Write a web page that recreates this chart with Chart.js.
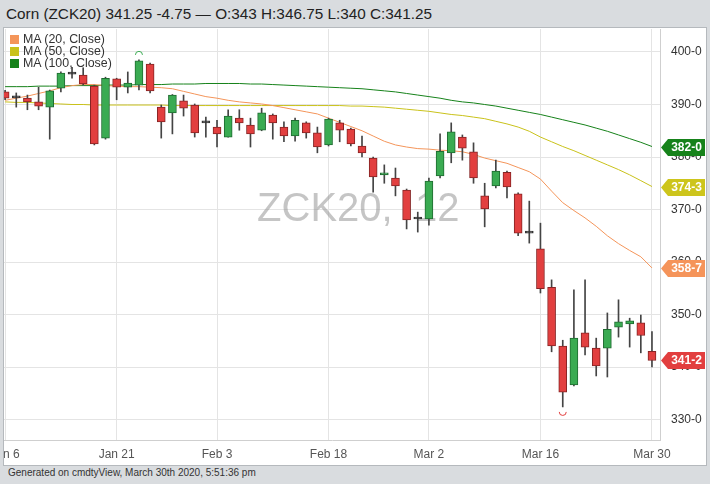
<!DOCTYPE html>
<html>
<head>
<meta charset="utf-8">
<script src="https://cdn.jsdelivr.net/npm/chart.js@4.4.0/dist/chart.umd.min.js"></script>
<style>
  html, body { margin: 0; padding: 0; }
  body { width: 710px; height: 484px; background: #d9dcdf; position: relative; overflow: hidden;
         font-family: "Liberation Sans", Arial, sans-serif; }
  #hdr { position: absolute; left: 6px; top: 5px; font-size: 15.3px; color: #222; white-space: nowrap; }
  #box { position: absolute; left: 3px; top: 27px; width: 702px; height: 437px; background: #fff;
         border: 1px solid #b5b9bd; }
  #legend { position: absolute; left: 10px; top: 33px; font-size: 12.4px; color: #333; line-height: 12px; }
  #legend div { height: 12px; white-space: nowrap; }
  #legend span { display: inline-block; width: 9px; height: 9px; margin-right: 4px; vertical-align: -1px; }
  #ftr { position: absolute; left: 8px; top: 467px; font-size: 10px; color: #333; white-space: nowrap; }
</style>
</head>
<body>
<div id="hdr"></div>
<div id="box"><canvas id="chart" width="702" height="437"></canvas></div>
<div id="legend"></div>
<div id="ftr">Generated on cmdtyView, March 30th 2020, 5:51:36 pm</div>
<script>
const symbol = "ZCK20";
const days = [
  "Jan 6", "Jan 7", "Jan 8", "Jan 9", "Jan 10", "Jan 13", "Jan 14", "Jan 15", "Jan 16", "Jan 17",
  "Jan 21", "Jan 22", "Jan 23", "Jan 24", "Jan 27", "Jan 28", "Jan 29", "Jan 30", "Jan 31",
  "Feb 3", "Feb 4", "Feb 5", "Feb 6", "Feb 7", "Feb 10", "Feb 11", "Feb 12", "Feb 13", "Feb 14",
  "Feb 18", "Feb 19", "Feb 20", "Feb 21", "Feb 24", "Feb 25", "Feb 26", "Feb 27", "Feb 28",
  "Mar 2", "Mar 3", "Mar 4", "Mar 5", "Mar 6", "Mar 9", "Mar 10", "Mar 11", "Mar 12", "Mar 13",
  "Mar 16", "Mar 17", "Mar 18", "Mar 19", "Mar 20", "Mar 23", "Mar 24", "Mar 25", "Mar 26", "Mar 27",
  "Mar 30"
];
const tickDays = ["Jan 6", "Jan 21", "Feb 3", "Feb 18", "Mar 2", "Mar 16", "Mar 30"];
const priceTicks = [330, 340, 350, 360, 370, 380, 390, 400];

const open = [
  392.4, 391.25, 391.2, 390.5, 389.5, 393.1, 395.8, 395.6, 393.5, 383.6,
  394.9, 393.3, 393.7, 397.7, 389.5, 388.4, 390.7, 389.9, 386.5,
  385.7, 383.8, 387.4, 386.1, 385.1, 388.0, 385.7, 384.0, 386.5, 384.6,
  382.3, 386.5, 385.3, 382.1, 379.8, 376.6, 376.0, 373.7, 368.2,
  368.2, 376.4, 380.8, 383.8, 381.0, 372.6, 374.5, 377.1, 373.0, 365.5,
  362.5, 355.2, 344.0, 336.6, 346.5, 343.6, 343.6, 347.6, 348.2, 348.4,
  343
];
const high = [
  392.7, 392.2, 391.8, 393.3, 392.75, 396.2, 397.1, 397.0, 393.7, 395.2,
  395.0, 396.2, 398.5, 397.9, 389.9, 391.9, 391.8, 390.1, 387.6,
  387.0, 389.0, 389.0, 387.4, 389.3, 388.2, 386.7, 387.4, 386.7, 385.7,
  387.4, 387.0, 385.5, 384.0, 380.0, 378.5, 377.9, 373.9, 369.5,
  376.0, 384.4, 386.5, 384.2, 382.7, 375.0, 379.4, 377.3, 373.2, 371.6,
  367.4, 356.6, 345.1, 354.7, 356.6, 345.5, 350.3, 352.8, 349.3, 349.9,
  346.75
];
const low = [
  390.9, 389.5, 389.0, 389.0, 383.4, 392.4, 395.0, 393.7, 382.3, 383.4,
  390.9, 392.2, 392.8, 392.2, 383.6, 384.4, 387.8, 383.8, 383.8,
  381.9, 383.8, 385.1, 381.9, 385.0, 383.4, 382.9, 383.0, 383.6, 380.8,
  382.1, 382.9, 382.1, 380.0, 373.3, 375.0, 372.6, 366.3, 365.7,
  367.0, 376.0, 378.9, 379.4, 375.0, 366.7, 374.1, 372.2, 365.0, 363.6,
  354.1, 342.9, 332.4, 336.4, 342.3, 338.3, 338.1, 345.7, 343.8, 342.7,
  340
];
const close = [
  391.2, 391.25, 390.5, 389.7, 392.6, 396.0, 395.8, 393.9, 382.5, 395.0,
  393.3, 394.1, 398.3, 392.6, 386.7, 391.8, 389.3, 384.6, 386.5,
  384.4, 387.8, 386.5, 384.4, 388.4, 386.5, 384.0, 387.0, 384.6, 381.9,
  387.2, 385.1, 382.5, 380.8, 376.2, 377.0, 374.5, 368.0, 368.2,
  375.4, 381.1, 384.8, 381.7, 376.0, 370.1, 377.3, 374.3, 365.5, 365.5,
  354.9, 344.0, 335.2, 345.5, 343.8, 340.2, 347.2, 348.6, 348.8, 346.0,
  341.25
];
const ma20 = [
  390.8, 391.2, 391.6, 392.1, 392.6, 393.2, 393.6, 393.8, 393.8, 393.6,
  393.5, 393.4, 393.4, 393.3, 393.2, 393.0, 392.5, 392.0, 391.5,
  391.2, 390.8, 390.5, 390.3, 390.1, 389.8, 389.4, 389.0, 388.6, 388.2,
  387.4, 386.6, 385.8, 385.0, 384.0, 383.0, 382.3, 381.9, 381.6,
  381.5, 381.3, 381.2, 381.0, 380.5, 379.8, 379.3, 378.8, 378.0, 377.2,
  375.8, 373.5, 371.3, 369.8, 368.4, 366.8, 365.0, 363.5, 362.2, 361.0,
  358.875
];
const ma50 = [
  390.5, 390.4, 390.4, 390.3, 390.2, 390.1, 390.0, 390.0, 389.9, 389.9,
  389.9, 389.9, 389.9, 389.9, 389.9, 389.8, 389.8, 389.8, 389.8,
  389.8, 389.8, 389.8, 389.8, 389.8, 389.8, 389.8, 389.8, 389.8, 389.8,
  389.8, 389.8, 389.7, 389.7, 389.6, 389.5, 389.3, 389.1, 388.9,
  388.7, 388.4, 388.1, 387.9, 387.6, 387.3, 386.8, 386.3, 385.7, 384.9,
  383.8, 382.9, 382.0, 381.2, 380.3, 379.4, 378.5, 377.6, 376.6, 375.5,
  374.375
];
const ma100 = [
  393.4, 393.4, 393.4, 393.5, 393.5, 393.5, 393.6, 393.6, 393.6, 393.7,
  393.7, 393.7, 393.8, 393.8, 393.8, 393.9, 393.9, 393.9, 394.0,
  394.0, 394.0, 394.0, 393.9, 393.9, 393.8, 393.7, 393.6, 393.5, 393.4,
  393.3, 393.2, 393.1, 393.0, 392.8, 392.6, 392.4, 392.1, 391.8,
  391.5, 391.2, 390.8, 390.5, 390.3, 390.0, 389.7, 389.3, 388.9, 388.5,
  388.1, 387.6, 387.1, 386.6, 386.1, 385.5, 384.9, 384.2, 383.5, 382.8,
  382.0
];

const UP = "#3aab52", UP_EDGE = "#1f6b31";
const DOWN = "#e23f3f", DOWN_EDGE = "#862424";
const FLAT = "#333333";
const MA_COLORS = { ma20: "#f4955a", ma50: "#c9c21a", ma100: "#16821a" };

const n = days.length;
const last = n - 1;
const frac8 = v => Math.floor(v) + "-" + Math.round((v - Math.floor(v)) * 8);

// header
document.getElementById("hdr").textContent =
  "Corn (" + symbol + ") " + close[last] + " " + (close[last] - close[last - 1]).toFixed(2) +
  " \u2014 O:" + open[last] + " H:" + high[last] + " L:" + low[last] + " C:" + close[last];

// legend
const legendItems = [["MA (20, Close)", MA_COLORS.ma20], ["MA (50, Close)", MA_COLORS.ma50], ["MA (100, Close)", MA_COLORS.ma100]];
document.getElementById("legend").innerHTML = legendItems
  .map(([t, c]) => '<div><span style="background:' + c + '"></span>' + t + "</div>").join("");

const candleColor = (i, a, b, c) => close[i] > open[i] ? a : close[i] < open[i] ? b : c;
const pts = arr => arr.map((v, i) => ({ x: i, y: v }));

const watermark = {
  id: "watermark",
  beforeDatasetsDraw(chart) {
    const { ctx, chartArea } = chart;
    ctx.save();
    ctx.font = "40px 'Liberation Sans', Arial, sans-serif";
    ctx.fillStyle = "rgba(150,150,150,0.55)";
    ctx.textAlign = "center";
    ctx.textBaseline = "alphabetic";
    ctx.fillText(symbol + ",  12", chartArea.left + chartArea.width * 0.54, chartArea.top + 192);
    ctx.restore();
  }
};

const extremes = {
  id: "extremes",
  afterDatasetsDraw(chart) {
    const { ctx, scales: { x, y } } = chart;
    const hi = high.indexOf(Math.max(...high));
    const lo = low.indexOf(Math.min(...low));
    ctx.save();
    ctx.lineWidth = 1;
    ctx.strokeStyle = UP;
    ctx.beginPath();
    ctx.arc(x.getPixelForValue(hi), y.getPixelForValue(high[hi]) - 5, 3.5, Math.PI, 0);
    ctx.stroke();
    ctx.strokeStyle = DOWN;
    ctx.beginPath();
    ctx.arc(x.getPixelForValue(lo), y.getPixelForValue(low[lo]) + 5, 3.5, 0, Math.PI);
    ctx.stroke();
    ctx.restore();
  }
};

const tags = {
  id: "tags",
  afterDraw(chart) {
    const { ctx, chartArea, scales: { y } } = chart;
    const items = [
      [ma100[last], MA_COLORS.ma100],
      [ma50[last], "#cdc51c"],
      [ma20[last], "#f5945a"],
      [close[last], DOWN]
    ];
    const x0 = chartArea.right + 1, x1 = chart.width - 1, h = 8.5;
    ctx.save();
    ctx.font = "bold 12px 'Liberation Sans', Arial, sans-serif";
    ctx.textAlign = "center";
    ctx.textBaseline = "middle";
    items.forEach(([v, c]) => {
      const py = Math.round(y.getPixelForValue(v)) + 0.5;
      ctx.fillStyle = c;
      ctx.beginPath();
      ctx.moveTo(x0, py);
      ctx.lineTo(x0 + 7, py - h);
      ctx.lineTo(x1, py - h);
      ctx.lineTo(x1, py + h);
      ctx.lineTo(x0 + 7, py + h);
      ctx.closePath();
      ctx.fill();
      ctx.fillStyle = "#fff";
      ctx.fillText(frac8(v), (x0 + 7 + x1) / 2, py + 0.5);
    });
    ctx.restore();
  }
};

new Chart(document.getElementById("chart"), {
  type: "bar",
  data: {
    datasets: [
      { type: "line", label: "MA (20, Close)", data: pts(ma20), borderColor: MA_COLORS.ma20, borderWidth: 1, pointRadius: 0, order: 3 },
      { type: "line", label: "MA (50, Close)", data: pts(ma50), borderColor: MA_COLORS.ma50, borderWidth: 1, pointRadius: 0, order: 3 },
      { type: "line", label: "MA (100, Close)", data: pts(ma100), borderColor: MA_COLORS.ma100, borderWidth: 1, pointRadius: 0, order: 3 },
      {
        label: "wick",
        data: days.map((d, i) => ({ x: i, y: [low[i], high[i]] })),
        backgroundColor: "#444",
        barThickness: 1,
        grouped: false,
        order: 2
      },
      {
        label: "body",
        data: days.map((d, i) => ({ x: i, y: [open[i], close[i]] })),
        backgroundColor: ctx => candleColor(ctx.dataIndex, UP, DOWN, FLAT),
        borderColor: ctx => candleColor(ctx.dataIndex, UP_EDGE, DOWN_EDGE, FLAT),
        borderWidth: 1,
        borderSkipped: false,
        barThickness: 8,
        minBarLength: 2,
        grouped: false,
        order: 1
      }
    ]
  },
  options: {
    responsive: false,
    animation: false,
    layout: { padding: { top: 1, left: 0, right: 0, bottom: 0 } },
    plugins: { legend: { display: false }, tooltip: { enabled: false } },
    scales: {
      x: {
        type: "linear",
        offset: false,
        min: -0.1,
        max: 58.72,
        afterBuildTicks: s => { s.ticks = tickDays.map(d => ({ value: days.indexOf(d) })); },
        afterFit: s => { s.height = 25; s.paddingLeft = 0; s.paddingRight = 0; },
        ticks: {
          autoSkip: false,
          maxRotation: 0,
          padding: 7,
          color: "#555",
          font: { size: 12, family: "'Liberation Sans', Arial, sans-serif" },
          callback: v => days[v]
        },
        grid: { color: "#e4e4e4", drawTicks: false, offset: false },
        border: { color: "#cfcfcf" }
      },
      y: {
        position: "right",
        min: 326.1,
        max: 404.38,
        afterBuildTicks: s => { s.ticks = priceTicks.map(v => ({ value: v })); },
        afterFit: s => { s.width = 46; s.paddingTop = 0; s.paddingBottom = 0; },
        ticks: {
          padding: 11,
          color: "#333",
          font: { size: 12, family: "'Liberation Sans', Arial, sans-serif" },
          callback: v => v + "-0"
        },
        grid: { color: "#e4e4e4", drawTicks: false },
        border: { color: "#cfcfcf" }
      }
    }
  },
  plugins: [watermark, extremes, tags]
});
</script>
</body>
</html>
